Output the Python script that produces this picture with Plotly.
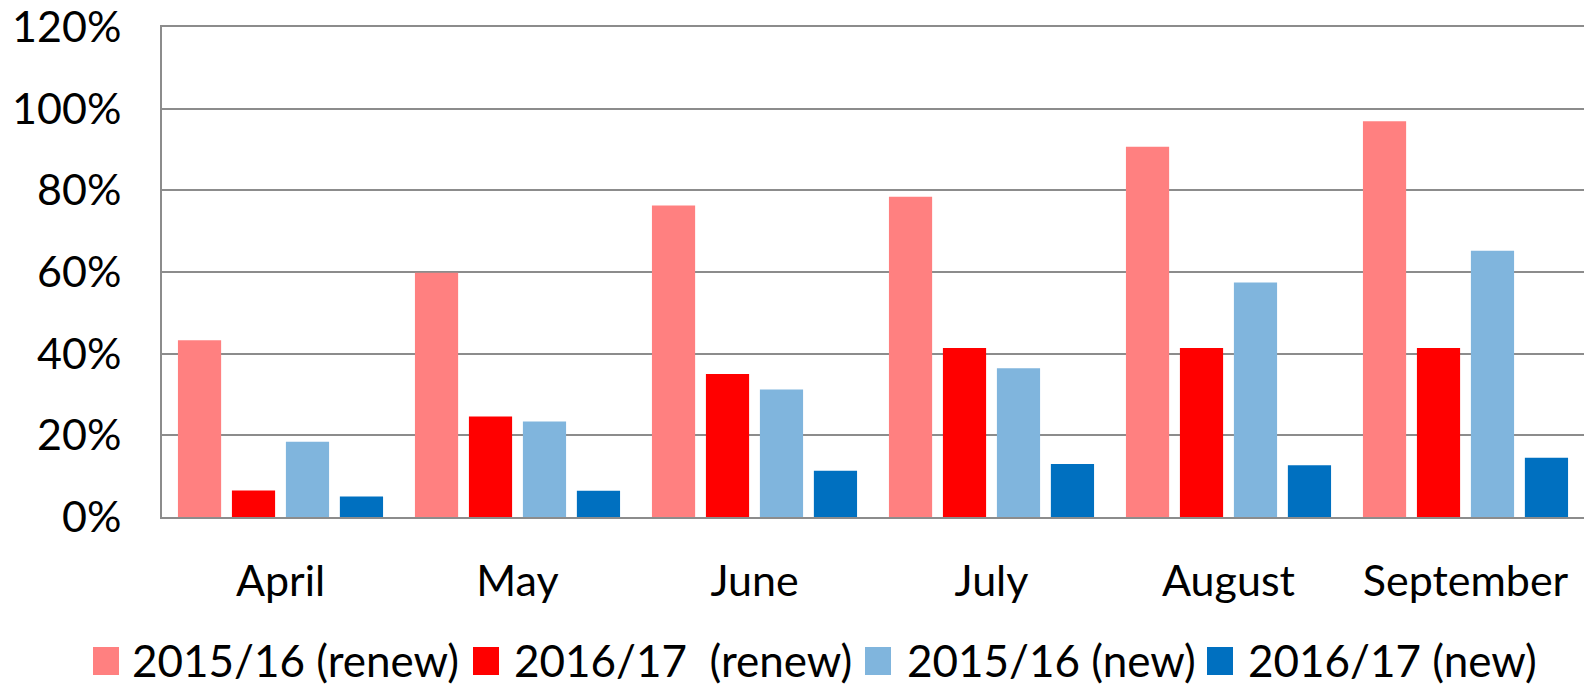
import plotly.graph_objects as go

months = ["April", "May", "June", "July", "August", "September"]
renew_1516 = [0.433, 0.598, 0.763, 0.784, 0.907, 0.969]
renew_1617 = [0.065, 0.246, 0.350, 0.414, 0.414, 0.414]
new_1516 = [0.184, 0.234, 0.312, 0.364, 0.574, 0.652]
new_1617 = [0.050, 0.064, 0.113, 0.130, 0.127, 0.145]

series_names = ["2015/16 (renew)", "2016/17  (renew)", "2015/16 (new)", "2016/17 (new)"]
series_values = [renew_1516, renew_1617, new_1516, new_1617]
series_colors = ["#FF8080", "#FF0000", "#80B5DD", "#0070C0"]

W, H = 1591, 685
L, R, T, B = 162, 7, 27, 168
FONT = "Lato"
FS = 43

fig = go.Figure()
for name, vals, col in zip(series_names, series_values, series_colors):
    fig.add_trace(go.Bar(x=months, y=vals, name=name, marker_color=col,
                         marker_line_width=0, showlegend=False))

# manual legend (large square swatches)
pw = W - L - R
ph = H - T - B
def px_x(x):
    return (x - L) / pw
def px_y(y):
    return (H - B - y) / ph

sq_x = [93, 473, 865, 1207]
txt_x = [130, 512, 905, 1246]
sq_top, sq_bot = 647, 675
for name, col, sx, tx in zip(series_names, series_colors, sq_x, txt_x):
    fig.add_shape(type="rect", xref="paper", yref="paper",
                  x0=px_x(sx), x1=px_x(sx + 26), y0=px_y(sq_bot), y1=px_y(sq_top),
                  fillcolor=col, line_width=0)
    fig.add_annotation(xref="paper", yref="paper", x=px_x(tx), y=px_y(660),
                       text=name.replace("  ", "&nbsp; "), showarrow=False,
                       xanchor="left", yanchor="middle",
                       font=dict(family=FONT, size=44, color="black"))

grid = "rgba(0,0,0,0.45)"
fig.update_layout(
    width=W, height=H,
    margin=dict(l=L, r=R, t=T, b=B, pad=0, autoexpand=False),
    paper_bgcolor="white", plot_bgcolor="white",
    barmode="group", bargap=0.089, bargroupgap=0.2,
    font=dict(family=FONT, size=FS, color="black"),
    showlegend=False,
    xaxis=dict(showgrid=False, showline=True, linecolor=grid, linewidth=2,
               mirror=True, automargin=False,
               ticks="", ticklabelstandoff=25, layer="above traces",
               tickfont=dict(family=FONT, size=FS, color="black")),
    yaxis=dict(range=[0, 1.2], dtick=0.2, tickformat=".0%",
               showgrid=True, gridcolor=grid, gridwidth=2,
               showline=True, linecolor=grid, linewidth=2,
               zeroline=False, ticks="", ticklabelstandoff=30,
               automargin=False, layer="above traces",
               tickfont=dict(family=FONT, size=FS, color="black")),
)

fig.write_html(
    "out.html",
    config={"displayModeBar": False},
    post_script="document.body.style.margin='0';document.body.style.overflow='hidden';",
)
